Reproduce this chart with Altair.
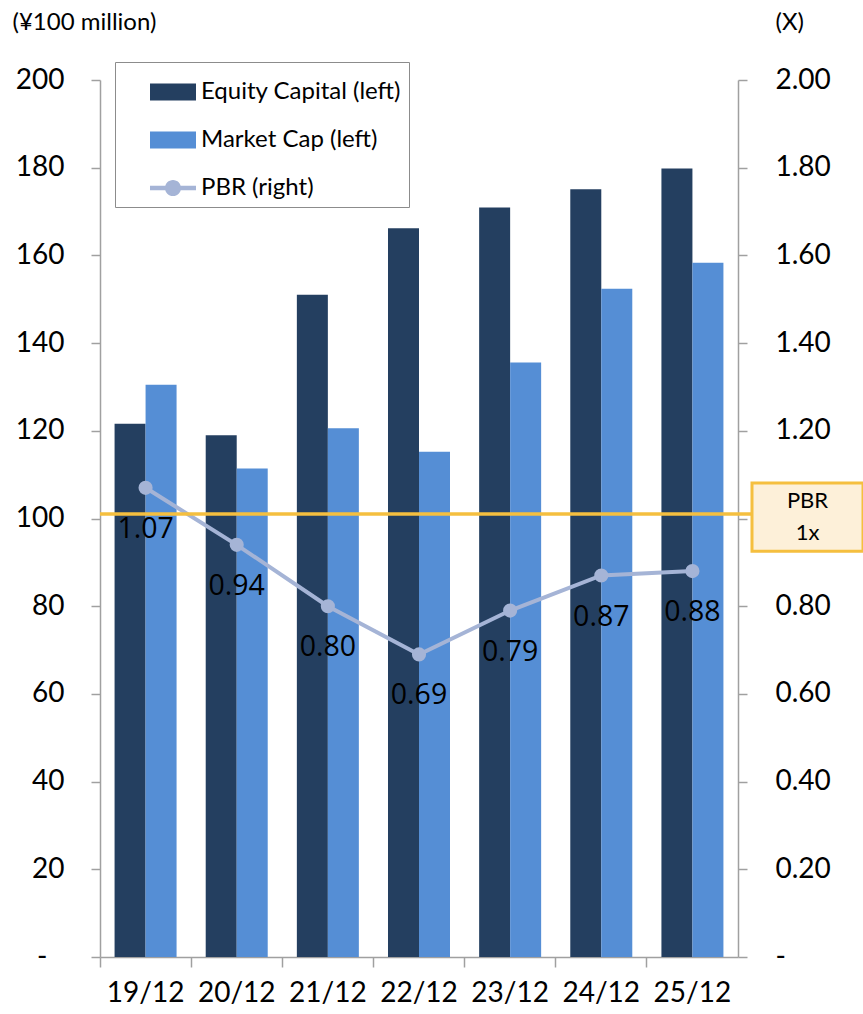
import altair as alt
import pandas as pd

# Fiscal year ends (YY/MM)
periods = ["19/12", "20/12", "21/12", "22/12", "23/12", "24/12", "25/12"]
# ¥100 million
equity_capital = [121.6, 119.0, 151.0, 166.2, 170.9, 175.1, 179.8]
market_cap = [130.5, 111.4, 120.6, 115.2, 135.6, 152.4, 158.3]
# times
pbr = [1.07, 0.94, 0.80, 0.69, 0.79, 0.87, 0.88]

series_names = ["Equity Capital (left)", "Market Cap (left)", "PBR (right)"]
series_colors = ["#243F60", "#558ED5", "#A5B4D6"]
left_ticks = [0, 20, 40, 60, 80, 100, 120, 140, 160, 180, 200]
right_ticks = [0.0, 0.2, 0.4, 0.6, 0.8, 1.0, 1.2, 1.4, 1.6, 1.8, 2.0]
pbr_line_level = 1.01
pbr_box_text = "PBR\n1x"

ORANGE = "#F5BF3F"
AXIS_GREY = "#A0A0A0"

bars_df = pd.DataFrame({
    "period": periods * 2,
    "series": [series_names[0]] * len(periods) + [series_names[1]] * len(periods),
    "value": equity_capital + market_cap,
})
pbr_df = pd.DataFrame({"period": periods, "pbr": pbr})
ref_df = pd.DataFrame({"level": [pbr_line_level], "label": [pbr_box_text]})
legend_df = pd.DataFrame({"series": series_names})

# legend symbols: bars as wide rectangles, PBR as a line with a marker
rect_symbol = "M-1,-0.37H1V0.37H-1Z"
line_symbol = ("M-1,-0.1H-0.3V0.1H-1Z M0.3,-0.1H1V0.1H0.3Z "
               "M0.35,0A0.35,0.35 0 1,1 -0.35,0A0.35,0.35 0 1,1 0.35,0Z")

legend_def = alt.Legend(
    title=None, orient="none", legendX=15, legendY=-18,
    padding=7, symbolOffset=28, symbolSize=2116, symbolStrokeWidth=0,
    symbolOpacity=1, rowPadding=13, labelFont="Lato", labelFontSize=24,
    labelColor="black", labelOffset=5, labelLimit=400,
    strokeColor="#8C8C8C", fillColor="white",
)
color_scale = alt.Scale(domain=series_names, range=series_colors)
right_scale = alt.Scale(domain=[0, 2], nice=False)

x_enc = alt.X(
    "period:N", sort=periods, title=None,
    scale=alt.Scale(paddingInner=0, paddingOuter=0),
    axis=alt.Axis(
        bandPosition=0, labelAngle=0, labelFont="Lato", labelFontSize=28,
        labelColor="black", labelPadding=12, tickSize=10, tickColor=AXIS_GREY,
        tickWidth=1.5, domainColor=AXIS_GREY, domainWidth=1.5, grid=False,
    ),
)

bars = alt.Chart(bars_df).mark_bar().encode(
    x=x_enc,
    xOffset=alt.XOffset("series:N", sort=series_names[:2],
                        scale=alt.Scale(paddingInner=0, paddingOuter=0.47)),
    y=alt.Y(
        "value:Q", scale=alt.Scale(domain=[0, 200], nice=False),
        title="(¥100 million)",
        axis=alt.Axis(
            orient="left", values=left_ticks,
            labelExpr="datum.value == 0 ? '-' : format(datum.value, 'd')",
            labelFont="Lato", labelFontSize=28, labelColor="black",
            labelPadding=alt.condition("datum.value == 0", alt.value(44), alt.value(27)),
            tickSize=9, tickColor=AXIS_GREY, tickWidth=1.5,
            domainColor=AXIS_GREY, domainWidth=1.5, grid=False,
            titleAngle=0, titleAlign="left",
            titleBaseline="middle", titleX=-88, titleY=-58,
            titleFont="Lato", titleFontSize=24, titleFontWeight="normal",
            titleColor="black",
        ),
    ),
    color=alt.Color("series:N", scale=color_scale, legend=legend_def),
)

# invisible layer that supplies per-entry legend shapes
legend_layer = alt.Chart(legend_df).transform_filter("false").mark_point(
    filled=True, opacity=1
).encode(
    color=alt.Color("series:N", scale=color_scale, legend=legend_def),
    shape=alt.Shape("series:N", scale=alt.Scale(
        domain=series_names, range=[rect_symbol, rect_symbol, line_symbol]),
        legend=legend_def),
)

# the 1.00 position sits behind the "PBR 1x" callout, so its label is left blank
right_axis = alt.Axis(
    orient="right", values=right_ticks,
    labelExpr=("datum.value == 0 ? '-' : abs(datum.value - 1) < 0.001 ? '' "
               ": format(datum.value, '.2f')"),
    labelFont="Lato", labelFontSize=28, labelColor="black", labelPadding=28,
    tickSize=9, tickColor=AXIS_GREY, tickWidth=1.5,
    domainColor=AXIS_GREY, domainWidth=1.5, grid=False,
    titleAngle=0, titleAlign="left", titleBaseline="middle",
    titleX=37, titleY=-58, titleFont="Lato", titleFontSize=24,
    titleFontWeight="normal", titleColor="black",
)

pbr_line = alt.Chart(pbr_df).mark_line(color=series_colors[2], strokeWidth=4).encode(
    x=alt.X("period:N", sort=periods),
    y=alt.Y("pbr:Q", scale=right_scale, title="(X)", axis=right_axis),
)
pbr_rule = alt.Chart(ref_df).mark_rule(color=ORANGE, strokeWidth=3.5).encode(
    y=alt.Y("level:Q", scale=right_scale, title="(X)"),
    x=alt.value(0), x2=alt.value(652),
)
pbr_points = alt.Chart(pbr_df).mark_circle(
    color=series_colors[2], size=200, opacity=1
).encode(
    x=alt.X("period:N", sort=periods),
    y=alt.Y("pbr:Q", scale=right_scale, title="(X)"),
)
pbr_labels = alt.Chart(pbr_df).mark_text(
    dy=41, font="Open Sans", fontSize=28.5, color="black"
).encode(
    x=alt.X("period:N", sort=periods),
    y=alt.Y("pbr:Q", scale=right_scale, title="(X)"),
    text=alt.Text("pbr:Q", format=".2f"),
)

box_shape = "M-1,-0.613H1V0.613H-1Z"
pbr_box = alt.Chart(ref_df).mark_point(
    shape=box_shape, size=12321, filled=True, fill="#FDF0D9",
    stroke=ORANGE, strokeWidth=3, opacity=1,
).encode(
    x=alt.value(707.5),
    y=alt.Y("level:Q", scale=right_scale, title="(X)"),
    yOffset=alt.value(3),
)
pbr_box_label = alt.Chart(ref_df).mark_text(
    font="Lato", fontSize=22, color="black", lineBreak="\n", lineHeight=32,
    dy=-13,
).encode(
    x=alt.value(707.5),
    y=alt.Y("level:Q", scale=right_scale, title="(X)"),
    text="label:N",
)

right_layer = alt.layer(pbr_line, pbr_rule, pbr_points, pbr_labels, pbr_box, pbr_box_label)

chart = alt.layer(bars, legend_layer, right_layer).resolve_scale(
    y="independent"
).properties(
    width=638, height=877,
    autosize=alt.AutoSizeParams(type="none"),
    padding={"left": 100, "top": 80, "right": 125, "bottom": 57},
    background="white",
).configure_view(stroke=None)

chart.save("out.html", embed_options={"renderer": "svg", "actions": False})
